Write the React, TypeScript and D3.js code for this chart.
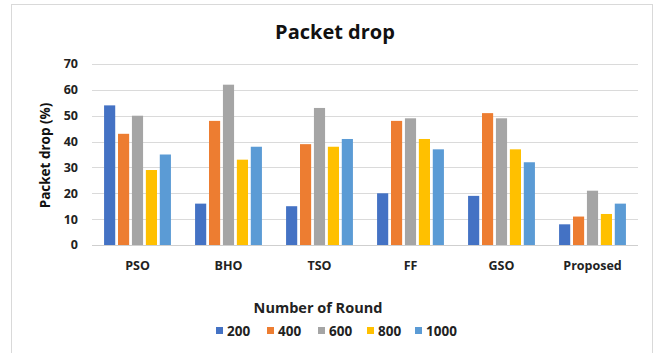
import React from "react";
import * as d3 from "d3";

const categories = ["PSO", "BHO", "TSO", "FF", "GSO", "Proposed"];
const rounds = ["200", "400", "600", "800", "1000"];
const round200 = [54, 16, 15, 20, 19, 8];
const round400 = [43, 48, 39, 48, 51, 11];
const round600 = [50, 62, 53, 49, 49, 21];
const round800 = [29, 33, 38, 41, 37, 12];
const round1000 = [35, 38, 41, 37, 32, 16];
const yTicks = [0, 10, 20, 30, 40, 50, 60, 70];
const colors = ["#4472c4", "#ed7d31", "#a5a5a5", "#ffc000", "#5b9bd5"];

const seriesValues = [round200, round400, round600, round800, round1000];

const W = 655;
const H = 353;
const margin = { left: 92, right: 17, top: 64, bottom: 108 };
const font = "'Open Sans', 'Liberation Sans', Arial, sans-serif";

export default function App() {
  const x = d3
    .scaleBand<string>()
    .domain(categories)
    .range([margin.left, W - margin.right])
    .paddingInner(0.25)
    .paddingOuter(0.125);
  const xs = d3
    .scaleBand<string>()
    .domain(rounds)
    .range([0, x.bandwidth()])
    .paddingInner(0.2)
    .paddingOuter(0.05);
  const y = d3.scaleLinear().domain([0, 70]).range([H - margin.bottom, margin.top]);

  const legendX = [216, 267, 318, 367, 415];

  return (
    <svg
      width={W}
      height={H}
      style={{ position: "absolute", left: 0, top: 0, background: "#fff" }}
      fontFamily={font}
    >
      <rect x={0} y={0} width={W} height={H} fill="#fff" />
      <rect x={11.5} y={4.5} width={641} height={360} fill="none" stroke="#d9d9d9" strokeWidth={1} />

      <text x={335} y={39} textAnchor="middle" fontSize={20} fontWeight={700} fill="#111">
        Packet drop
      </text>

      {yTicks.map((t) => (
        <g key={t}>
          <line
            x1={margin.left}
            x2={W - margin.right}
            y1={Math.round(y(t)) + 0.5}
            y2={Math.round(y(t)) + 0.5}
            stroke={t === 0 ? "#cfcfcf" : "#dadada"}
            strokeWidth={1}
          />
          <text x={78} y={y(t)} dy="0.35em" textAnchor="end" fontSize={12.5} fontWeight={700} fill="#222">
            {t}
          </text>
        </g>
      ))}

      <text
        transform={`translate(50,${(y(0) + y(70)) / 2 + 1}) rotate(-90)`}
        textAnchor="middle"
        fontSize={13.5}
        fontWeight={700}
        fill="#111"
      >
        Packet drop (%)
      </text>

      {categories.map((c, ci) => (
        <g key={c} transform={`translate(${x(c)},0)`}>
          {rounds.map((r, si) => {
            const v = seriesValues[si][ci];
            return (
              <rect
                key={r}
                x={xs(r)}
                y={y(v)}
                width={xs.bandwidth()}
                height={y(0) - y(v)}
                fill={colors[si]}
              />
            );
          })}
          <text
            x={x.bandwidth() / 2}
            y={270}
            textAnchor="middle"
            fontSize={12.5}
            fontWeight={700}
            fill="#222"
          >
            {c}
          </text>
        </g>
      ))}

      <text x={318} y={313} textAnchor="middle" fontSize={14.5} fontWeight={700} fill="#222">
        Number of Round
      </text>
      {rounds.map((r, i) => (
        <g key={r}>
          <rect x={legendX[i]} y={327} width={7} height={7} fill={colors[i]} />
          <text x={legendX[i] + 11} y={335.5} fontSize={13.5} fontWeight={700} fill="#222">
            {r}
          </text>
        </g>
      ))}
    </svg>
  );
}
